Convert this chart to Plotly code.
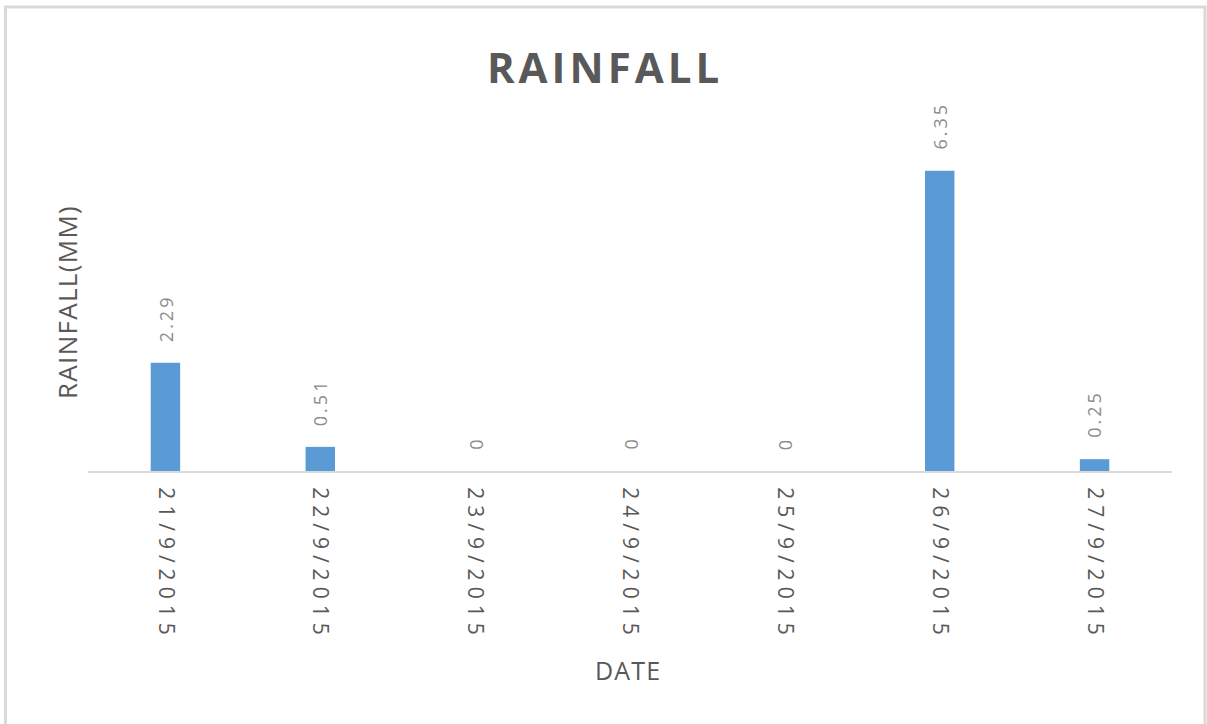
import plotly.graph_objects as go

dates = ["21/9/2015", "22/9/2015", "23/9/2015", "24/9/2015", "25/9/2015", "26/9/2015", "27/9/2015"]
rainfall = [2.29, 0.51, 0, 0, 0, 6.35, 0.25]
label_text = ["2.29", "0.51", "0", "0", "0", "6.35", "0.25"]

BAR = "#5B9BD5"
GRAY = "#595959"
LIGHT = "#8C8C8C"
FONT = "Open Sans"

fig = go.Figure()
fig.add_trace(go.Bar(x=dates, y=rainfall, marker=dict(color=BAR, line=dict(width=0)),
                     width=0.19, hoverinfo="x+y"))

annotations = []
for d, v, t in zip(dates, rainfall, label_text):
    annotations.append(dict(
        x=d, y=v, xref="x", yref="y",
        text='<span style="letter-spacing:3px">%s</span>' % t,
        textangle=-90, showarrow=False, yanchor="bottom", xanchor="center",
        yshift=19, font=dict(family=FONT, size=18, color=LIGHT)))

# axis titles
annotations.append(dict(x=(628 - 88) / 1084, y=(471 - 670) / 331, xref="paper", yref="paper",
                        text='<span style="letter-spacing:1.2px">DATE</span>', showarrow=False,
                        xanchor="center", yanchor="middle",
                        font=dict(family=FONT, size=25, color=GRAY)))
annotations.append(dict(x=(67 - 88) / 1084, y=(471 - 302) / 331, xref="paper", yref="paper",
                        text='<span style="letter-spacing:1.3px">RAINFALL(MM)</span>', showarrow=False,
                        textangle=-90, xanchor="center", yanchor="middle",
                        font=dict(family=FONT, size=26, color=GRAY)))

fig.update_layout(
    width=1207, height=724,
    margin=dict(l=88, r=35, t=140, b=253),
    paper_bgcolor="white", plot_bgcolor="white",
    showlegend=False,
    title=dict(text='<span style="letter-spacing:4px"><b>RAINFALL</b></span>',
               x=605 / 1207, xanchor="center", y=1 - 68 / 724, yanchor="middle",
               font=dict(family=FONT, size=42, color=GRAY)),
    xaxis=dict(type="category", tickmode="array", tickvals=dates,
               ticktext=['<span style="letter-spacing:6px">%s</span>' % d for d in dates],
               tickangle=90, tickfont=dict(family=FONT, size=21, color=GRAY),
               showline=True, linecolor="#D9D9D9", linewidth=2, ticks="",
               showgrid=False, zeroline=False, ticklabelstandoff=10),
    yaxis=dict(range=[0, 7], showticklabels=False, showgrid=False, zeroline=False,
               showline=False, ticks=""),
    annotations=annotations,
    shapes=[dict(type="rect", xref="paper", yref="paper",
                 x0=(5.5 - 88) / 1084, x1=(1205 - 88) / 1084,
                 y0=(471 - 740) / 331, y1=(471 - 7) / 331,
                 line=dict(color="#D9D9D9", width=3), fillcolor="rgba(0,0,0,0)", layer="below")],
)

fig.write_html("out.html")
